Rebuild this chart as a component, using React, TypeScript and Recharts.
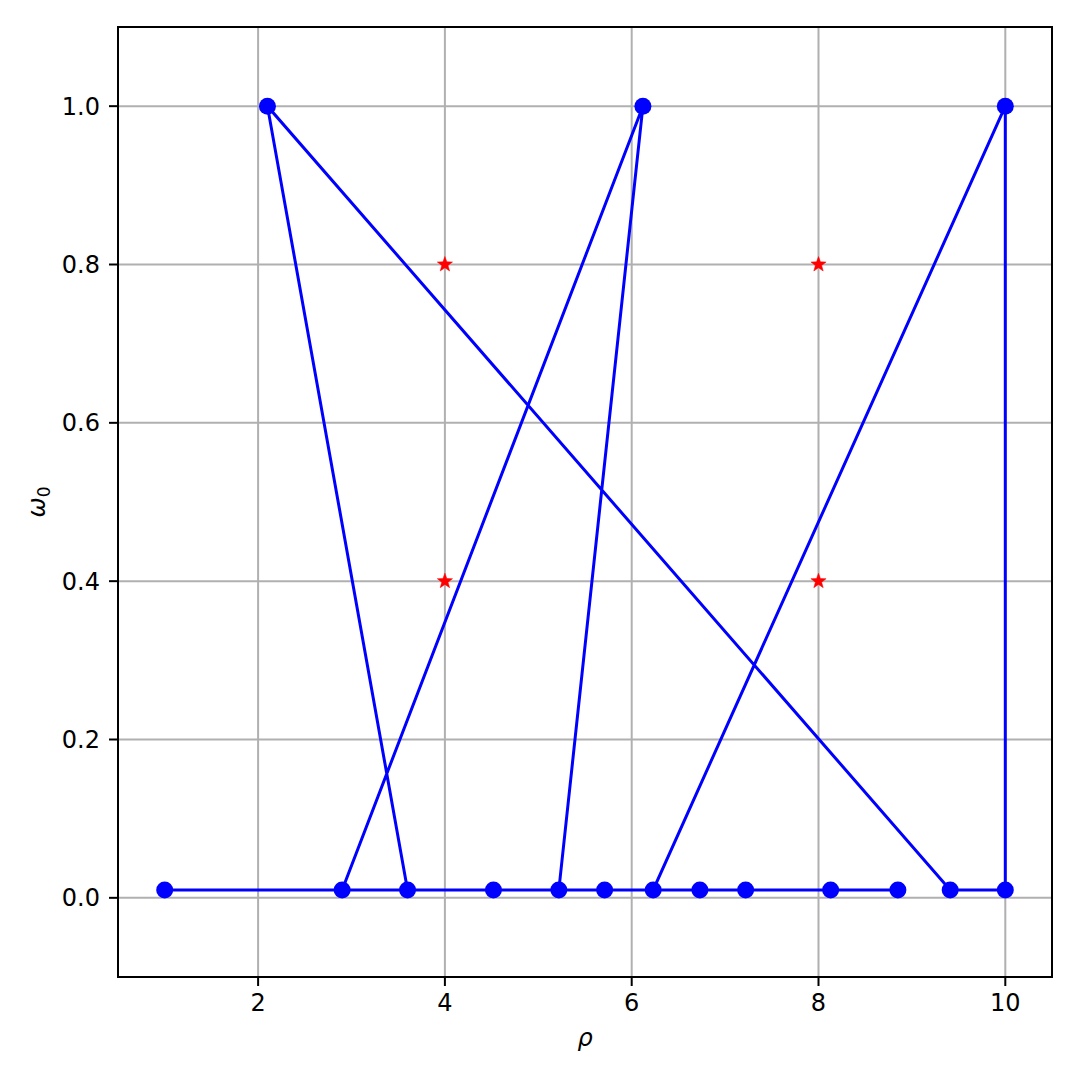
import { ComposedChart, Line, Scatter, XAxis, YAxis, CartesianGrid, ReferenceArea, Label } from "recharts";

// search path, in the order it was visited
const pathRho = [1.0, 3.6, 2.1, 9.41, 10.0, 10.0, 6.23, 5.71, 5.22, 6.12, 2.9, 4.52, 6.73, 7.22, 8.13, 8.85];
const pathOmega = [0.01, 0.01, 1.0, 0.01, 0.01, 1.0, 0.01, 0.01, 0.01, 1.0, 0.01, 0.01, 0.01, 0.01, 0.01, 0.01];

// reference points (stars)
const starRho = [4, 4, 8, 8];
const starOmega = [0.8, 0.4, 0.8, 0.4];

const xTicks = [2, 4, 6, 8, 10];
const yTicks = [0.0, 0.2, 0.4, 0.6, 0.8, 1.0];

const pathData = pathRho.map((x, i) => ({ x, y: pathOmega[i] }));
const starData = starRho.map((x, i) => ({ x, y: starOmega[i] }));

const FONT = "'DejaVu Sans', sans-serif";
const FS = 24;
const tickStyle = { fill: "#000", fontSize: FS, fontFamily: FONT };

const Star = (props: any) => {
  const { cx, cy } = props;
  const outer = 8;
  const inner = 3.3;
  const pts: string[] = [];
  for (let i = 0; i < 10; i++) {
    const r = i % 2 === 0 ? outer : inner;
    const a = -Math.PI / 2 + (i * Math.PI) / 5;
    pts.push(`${cx + r * Math.cos(a)},${cy + r * Math.sin(a)}`);
  }
  return <polygon points={pts.join(" ")} fill="red" stroke="red" strokeWidth={0.5} />;
};

export default function App() {
  return (
    <div style={{ position: "absolute", left: 0, top: 0, width: 1080, height: 1080, background: "#fff" }}>
      <ComposedChart
        width={1080}
        height={1080}
        margin={{ top: 27, right: 28, left: 18, bottom: 23 }}
      >
        <CartesianGrid stroke="#b0b0b0" strokeWidth={2} />
        <XAxis
          type="number"
          dataKey="x"
          domain={[0.5, 10.5]}
          ticks={xTicks}
          allowDataOverflow
          height={80}
          axisLine={false}
          tickSize={9}
          tickMargin={8}
          tickLine={{ stroke: "#000", strokeWidth: 2 }}
          tick={tickStyle}
        >
          <Label
            content={() => (
              <text x={585} y={1046} textAnchor="middle" fontSize={FS} fontStyle="italic" fontFamily={FONT} fill="#000">
                ρ
              </text>
            )}
          />
        </XAxis>
        <YAxis
          type="number"
          dataKey="y"
          domain={[-0.1, 1.1]}
          ticks={yTicks}
          allowDataOverflow
          width={100}
          axisLine={false}
          tickSize={9}
          tickMargin={9}
          tickLine={{ stroke: "#000", strokeWidth: 2 }}
          tick={tickStyle}
          tickFormatter={(v: number) => v.toFixed(1)}
        >
          <Label
            content={() => (
              <text
                x={45}
                y={502}
                textAnchor="middle"
                fontSize={FS}
                fontFamily={FONT}
                fill="#000"
                transform="rotate(-90 45 502)"
              >
                <tspan fontStyle="italic">ω</tspan>
                <tspan fontSize={17} dy={5}>0</tspan>
              </text>
            )}
          />
        </YAxis>
        <Line
          data={pathData}
          dataKey="y"
          type="linear"
          stroke="#0000ff"
          strokeWidth={3}
          dot={{ r: 8.5, fill: "#0000ff", stroke: "#0000ff", strokeWidth: 0 }}
          activeDot={false}
          isAnimationActive={false}
        />
        <Scatter data={starData} dataKey="y" shape={Star} isAnimationActive={false} />
        <ReferenceArea
          x1={0.5}
          x2={10.5}
          y1={-0.1}
          y2={1.1}
          fill="none"
          fillOpacity={0}
          stroke="#000"
          strokeWidth={2}
        />
      </ComposedChart>
    </div>
  );
}
